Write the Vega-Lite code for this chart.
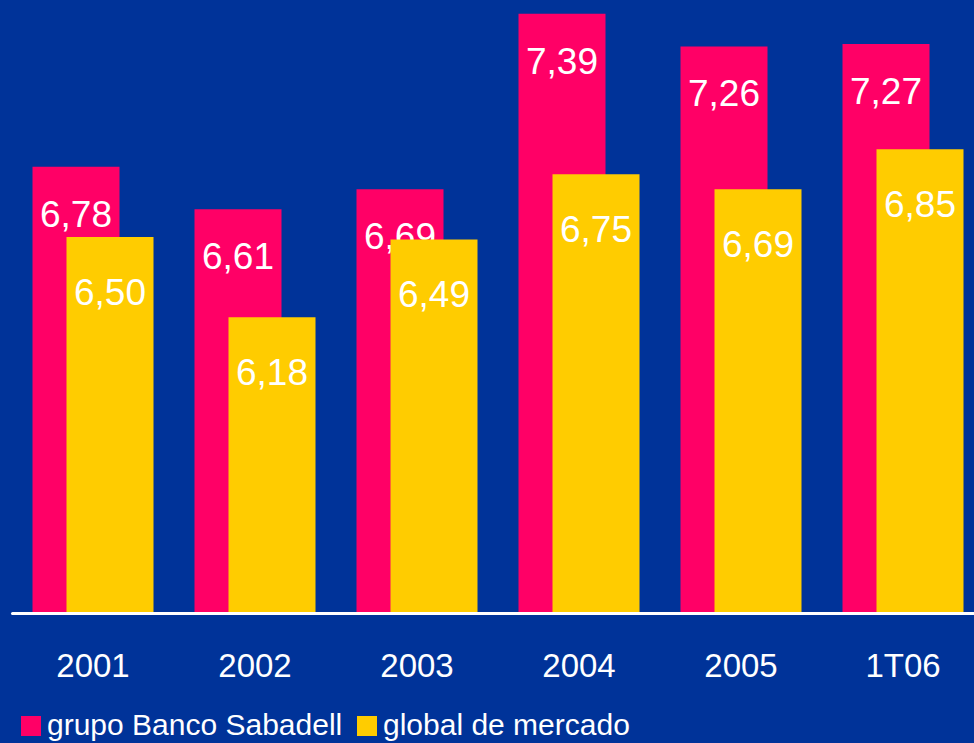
{
  "$schema": "https://vega.github.io/schema/vega-lite/v6.json",
  "width": 962,
  "height": 613,
  "autosize": {"type": "none"},
  "padding": {"left": 12, "top": 0, "right": 0, "bottom": 130},
  "background": "#003399",
  "config": {
    "view": {"stroke": null},
    "font": "Liberation Sans",
    "locale": {"number": {"decimal": ",", "thousands": ".", "grouping": [3], "currency": ["", " €"]}}
  },
  "data": {
    "values": [
      {"periodo": "2001", "serie": "grupo Banco Sabadell", "valor": 6.78},
      {"periodo": "2002", "serie": "grupo Banco Sabadell", "valor": 6.61},
      {"periodo": "2003", "serie": "grupo Banco Sabadell", "valor": 6.69},
      {"periodo": "2004", "serie": "grupo Banco Sabadell", "valor": 7.39},
      {"periodo": "2005", "serie": "grupo Banco Sabadell", "valor": 7.26},
      {"periodo": "1T06", "serie": "grupo Banco Sabadell", "valor": 7.27},
      {"periodo": "2001", "serie": "global de mercado", "valor": 6.50},
      {"periodo": "2002", "serie": "global de mercado", "valor": 6.18},
      {"periodo": "2003", "serie": "global de mercado", "valor": 6.49},
      {"periodo": "2004", "serie": "global de mercado", "valor": 6.75},
      {"periodo": "2005", "serie": "global de mercado", "valor": 6.69},
      {"periodo": "1T06", "serie": "global de mercado", "valor": 6.85}
    ]
  },
  "encoding": {
    "x": {
      "field": "periodo",
      "type": "nominal",
      "sort": ["2001", "2002", "2003", "2004", "2005", "1T06"],
      "scale": {"range": [0, 972], "paddingInner": 0, "paddingOuter": 0},
      "axis": {
        "title": null,
        "labelAngle": 0,
        "labelColor": "#FFFFFF",
        "labelFontSize": 33,
        "labelFont": "Liberation Sans",
        "labelPadding": 37,
        "ticks": false,
        "domainColor": "#FFFFFF",
        "domainWidth": 3,
        "domainCap": "round",
        "grid": false,
        "zindex": 1
      }
    },
    "y": {
      "field": "valor",
      "type": "quantitative",
      "scale": {"domain": [5, 7.445], "nice": false, "zero": false},
      "axis": null
    }
  },
  "layer": [
    {
      "transform": [{"filter": "datum.serie === 'grupo Banco Sabadell'"}],
      "mark": {"type": "bar", "width": 87, "xOffset": -17},
      "encoding": {
        "y2": {"datum": 5},
        "color": {
          "field": "serie",
          "type": "nominal",
          "scale": {"domain": ["grupo Banco Sabadell", "global de mercado"], "range": ["#FF0066", "#FFCC00"]},
          "legend": {
            "title": null,
            "orient": "none",
            "direction": "horizontal",
            "columns": 2,
            "legendX": 4,
            "legendY": 711,
            "symbolType": "square",
            "symbolSize": 400,
            "symbolStrokeWidth": 0,
            "symbolOpacity": 1,
            "labelColor": "#FFFFFF",
            "labelFontSize": 30,
            "labelFont": "Liberation Sans",
            "labelOffset": 1,
            "labelLimit": 0,
            "columnPadding": 9,
            "padding": 0
          }
        }
      }
    },
    {
      "transform": [{"filter": "datum.serie === 'grupo Banco Sabadell'"}],
      "mark": {"type": "text", "xOffset": -17, "dy": 60, "baseline": "alphabetic", "align": "center", "color": "#FFFFFF", "fontSize": 37, "font": "Liberation Sans"},
      "encoding": {"text": {"field": "valor", "type": "quantitative", "format": ".2f"}}
    },
    {
      "transform": [{"filter": "datum.serie === 'global de mercado'"}],
      "mark": {"type": "bar", "width": 87, "xOffset": 17},
      "encoding": {
        "y2": {"datum": 5},
        "color": {"field": "serie", "type": "nominal"}
      }
    },
    {
      "transform": [{"filter": "datum.serie === 'global de mercado'"}],
      "mark": {"type": "text", "xOffset": 17, "dy": 68, "baseline": "alphabetic", "align": "center", "color": "#FFFFFF", "fontSize": 37, "font": "Liberation Sans"},
      "encoding": {"text": {"field": "valor", "type": "quantitative", "format": ".2f"}}
    }
  ]
}
